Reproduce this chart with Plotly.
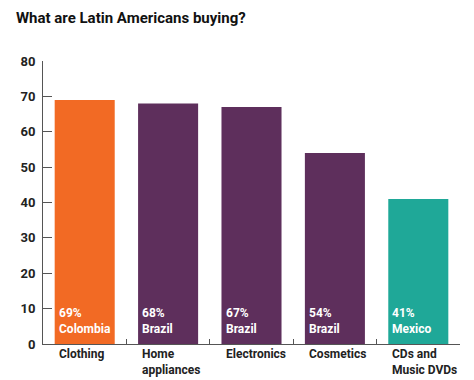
import plotly.graph_objects as go

categories = ["Clothing", "Home appliances", "Electronics", "Cosmetics", "CDs and Music DVDs"]
category_labels = ["Clothing", "Home<br>appliances", "Electronics", "Cosmetics", "CDs and<br>Music DVDs"]
values = [69, 68, 67, 54, 41]
countries = ["Colombia", "Brazil", "Brazil", "Brazil", "Mexico"]
colors = ["#F26A24", "#5E2F5C", "#5E2F5C", "#5E2F5C", "#1FA898"]
y_ticks = [0, 10, 20, 30, 40, 50, 60, 70, 80]

FONT = "Roboto"

fig = go.Figure()
fig.add_trace(go.Bar(x=categories, y=values, marker=dict(color=colors, line=dict(width=0)),
                     hoverinfo="skip"))

for c, v, ctry in zip(categories, values, countries):
    fig.add_annotation(x=c, y=0, xref="x", yref="y", text=f"{v}%<br>{ctry}",
                       xanchor="left", yanchor="bottom", align="left", xshift=-28, yshift=6,
                       showarrow=False, font=dict(family=FONT, size=12, color="white", weight="bold"))

for c, lab in zip(categories, category_labels):
    fig.add_annotation(x=c, y=0, xref="x", yref="y", text=lab,
                       xanchor="left", yanchor="top", align="left", xshift=-28, yshift=-1,
                       showarrow=False, font=dict(family=FONT, size=12, color="#222", weight="bold"))

fig.update_layout(
    width=466, height=372,
    margin=dict(l=31, r=14, t=53, b=36),
    paper_bgcolor="white", plot_bgcolor="white",
    bargap=0.28,
    showlegend=False,
    title=dict(text="What are Latin Americans buying?", x=0.017, xanchor="left", y=0.975, yanchor="middle",
               font=dict(family=FONT, size=15, color="#111", weight="bold")),
    xaxis=dict(showticklabels=False, tickson="boundaries", ticks="inside", ticklen=5, tickcolor="#555",
               showline=True, linecolor="#555", linewidth=1, showgrid=False),
    yaxis=dict(range=[0, 80], tickvals=y_ticks, ticks="inside", ticklen=9, tickcolor="#555",
               ticklabelstandoff=4,
               showline=True, linecolor="#555", linewidth=1, showgrid=False, zeroline=False,
               tickfont=dict(family=FONT, size=13, color="#222", weight="bold")),
)

fig.write_html("out.html")
